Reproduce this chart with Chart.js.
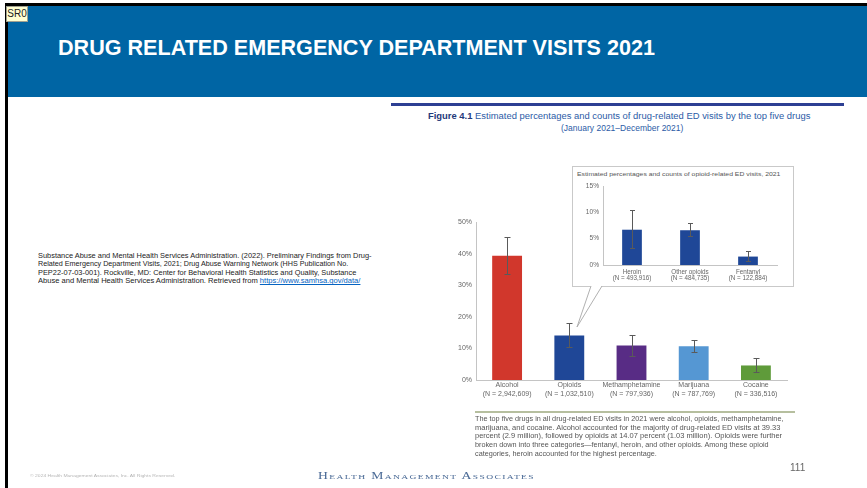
<!DOCTYPE html>
<html>
<head>
<meta charset="utf-8">
<script src="https://cdn.jsdelivr.net/npm/chart.js@4.4.1/dist/chart.umd.min.js"></script>
<style>
  html, body { margin: 0; padding: 0; }
  body { width: 867px; height: 488px; position: relative; overflow: hidden; background: #fff;
         font-family: "Liberation Sans", Arial, sans-serif; }
  .abs { position: absolute; white-space: nowrap; transform-origin: 0 50%; }
  #topBar { left: 5px; top: 3px; width: 862px; height: 3px; background: #000; }
  #leftBar { left: 5px; top: 3px; width: 3px; height: 485px; background: #000; }
  #banner { left: 8px; top: 6px; width: 859px; height: 91px; background: #0065a4; }
  #tag { left: 6px; top: 6px; width: 20px; height: 14px; background: #ffffd2; border: 1px solid #a0a090;
         font-size: 10px; line-height: 14px; color: #222; text-align: center; }
  #title { left: 58px; top: 38px; font-size: 21.5px; line-height: 21.5px; font-weight: bold; color: #fff; }
  #rule { left: 391px; top: 103px; width: 453px; height: 3px; background: #2d3f93; }
  .caption { font-size: 8.5px; line-height: 8.5px; color: #2b5ba6; }
  .caption b { color: #1f3a7a; }
  .cite { left: 38px; font-size: 6.8px; line-height: 6.8px; color: #222; }
  .cite a { color: #0563c1; text-decoration: underline; }
  #noteRule { left: 475px; top: 411px; width: 320px; height: 1.5px; background: #b6bf9f; }
  .note { left: 475px; font-size: 6.4px; line-height: 6.4px; color: #555; }
  #pageNo { left: 790px; top: 463px; font-size: 10px; line-height: 10px; color: #666; }
  #footer { left: 318px; top: 471px; font-family: "Liberation Serif", serif; font-variant: small-caps;
            font-size: 10px; line-height: 10px; letter-spacing: 1px; color: #4a6a96; }
  #copy { left: 30px; top: 474px; font-size: 4px; line-height: 4px; color: #b5b5b5; }
  #mainChart { position: absolute; left: 440px; top: 205px; }
  #insetBox { position: absolute; left: 572px; top: 166px; width: 220px; height: 119px;
              background: #fff; border: 1px solid #c9c9c9; }
  #insetTitle { left: 577px; top: 171px; font-size: 6.2px; line-height: 6.2px; color: #555; }
  #insetChart { position: absolute; left: 575px; top: 178px; }
  #pointer { position: absolute; left: 0; top: 0; }
</style>
</head>
<body>
<div id="topBar" class="abs"></div>
<div id="leftBar" class="abs"></div>
<div id="banner" class="abs"></div>
<div id="tag" class="abs">SR0</div>
<div id="title" class="abs">DRUG RELATED EMERGENCY DEPARTMENT VISITS 2021</div>
<div id="rule" class="abs"></div>

<div id="cap1" class="abs caption" style="left:428px; top:112px;"><b>Figure 4.1</b> Estimated percentages and counts of drug-related ED visits by the top five drugs</div>
<div id="cap2" class="abs caption" style="left:560px; top:124px;">(January 2021–December 2021)</div>

<div id="cite1" class="abs cite" style="top:252.5px;">Substance Abuse and Mental Health Services Administration. (2022). Preliminary Findings from Drug-</div>
<div id="cite2" class="abs cite" style="top:261px;">Related Emergency Department Visits, 2021; Drug Abuse Warning Network (HHS Publication No.</div>
<div id="cite3" class="abs cite" style="top:269.5px;">PEP22-07-03-001). Rockville, MD: Center for Behavioral Health Statistics and Quality, Substance</div>
<div id="cite4" class="abs cite" style="top:278px;">Abuse and Mental Health Services Administration. Retrieved from <a>https://www.samhsa.gov/data/</a></div>

<canvas id="mainChart" width="360" height="200"></canvas>
<div id="insetBox"></div>
<div id="insetTitle" class="abs">Estimated percentages and counts of opioid-related ED visits, 2021</div>
<canvas id="insetChart" width="215" height="108"></canvas>
<svg id="pointer" width="867" height="488">
  <polygon points="591,285.5 602,285.5 577,327" fill="#fff" stroke="none"/>
  <polyline points="591,286 577,327 602,286" fill="none" stroke="#b0b0b0" stroke-width="1"/>
</svg>

<div id="noteRule" class="abs"></div>
<div id="note1" class="abs note" style="top:416px;">The top five drugs in all drug-related ED visits in 2021 were alcohol, opioids, methamphetamine,</div>
<div id="note2" class="abs note" style="top:424.7px;">marijuana, and cocaine. Alcohol accounted for the majority of drug-related ED visits at 39.33</div>
<div id="note3" class="abs note" style="top:433.4px;">percent (2.9 million), followed by opioids at 14.07 percent (1.03 million). Opioids were further</div>
<div id="note4" class="abs note" style="top:442.1px;">broken down into three categories—fentanyl, heroin, and other opioids. Among these opioid</div>
<div id="note5" class="abs note" style="top:450.8px;">categories, heroin accounted for the highest percentage.</div>

<div id="pageNo" class="abs">111</div>
<div id="footer" class="abs">Health Management Associates</div>
<div id="copy" class="abs">© 2024 Health Management Associates, Inc. All Rights Reserved.</div>

<script>
// ---------- Data ----------
const DRUGS = ["Alcohol", "Opioids", "Methamphetamine", "Marijuana", "Cocaine"];
const DRUG_COUNTS = ["(N = 2,942,609)", "(N = 1,032,510)", "(N = 797,936)", "(N = 787,769)", "(N = 336,516)"];
const DRUG_PCT = [39.33, 14.07, 10.9, 10.7, 4.6];
const DRUG_LOW = [33.6, 10.4, 7.6, 8.9, 2.4];
const DRUG_HIGH = [45.3, 17.9, 14.1, 12.6, 6.9];
const DRUG_COLORS = ["#d1372c", "#1f4797", "#582c85", "#5597d3", "#5f9b3a"];
const DRUG_TICKS = [0, 10, 20, 30, 40, 50];

const OPIOIDS = ["Heroin", "Other opioids", "Fentanyl"];
const OPIOID_COUNTS = ["(N = 493,916)", "(N = 484,735)", "(N = 122,884)"];
const OPIOID_PCT = [6.7, 6.6, 1.6];
const OPIOID_LOW = [3.2, 5.5, 0.8];
const OPIOID_HIGH = [10.5, 7.9, 2.6];
const OPIOID_TICKS = [0, 5, 10, 15];

// ---------- Text fitting ----------
// stretch a line of text so it spans the same width as in the slide
function fit(id, width) {
  const el = document.getElementById(id);
  if (!el) return;
  el.style.transform = `scaleX(${width / el.offsetWidth})`;
}

fit("title", 597);
fit("cap1", 382);
fit("cite1", 334);
fit("cite2", 310);
fit("cite3", 318);
fit("cite4", 322);
fit("note1", 308);
fit("note2", 305);
fit("note3", 307);
fit("note4", 294);
fit("note5", 182);
fit("footer", 217);
fit("copy", 145);
fit("insetTitle", 203);

// center the second caption line under the first
(() => {
  const c2 = document.getElementById("cap2");
  c2.style.left = (622 - c2.offsetWidth / 2) + "px";
})();

// ---------- Charts ----------
Chart.defaults.font.family = "'Liberation Sans', Arial, sans-serif";
Chart.defaults.color = "#666";

const errorBars = {
  id: "errorBars",
  afterDatasetsDraw(chart, args, opts) {
    const { ctx } = chart;
    const y = chart.scales.y;
    const meta = chart.getDatasetMeta(0);
    ctx.save();
    ctx.strokeStyle = opts.color;
    ctx.lineWidth = 1;
    meta.data.forEach((bar, i) => {
      const x = Math.round(bar.x) + 0.5;
      const top = Math.round(y.getPixelForValue(opts.high[i])) + 0.5;
      const bottom = Math.round(y.getPixelForValue(opts.low[i])) + 0.5;
      ctx.beginPath();
      ctx.moveTo(x, top);
      ctx.lineTo(x, bottom);
      ctx.moveTo(x - opts.cap, top);
      ctx.lineTo(x + opts.cap, top);
      ctx.moveTo(x - opts.cap, bottom);
      ctx.lineTo(x + opts.cap, bottom);
      ctx.stroke();
    });
    ctx.restore();
  }
};

function barOptions(cfg) {
  return {
    responsive: false,
    animation: false,
    devicePixelRatio: 1,
    layout: { padding: cfg.padding },
    plugins: {
      legend: { display: false },
      tooltip: { enabled: false },
      errorBars: { low: cfg.low, high: cfg.high, cap: cfg.cap, color: "#5a5a5a" }
    },
    scales: {
      x: {
        grid: { display: false, drawTicks: false },
        border: { display: true, color: "#c4c4c4" },
        ticks: { font: { size: cfg.font, lineHeight: cfg.lineHeight }, padding: cfg.xPad, maxRotation: 0, autoSkip: false },
        afterFit: s => { s.height = cfg.xHeight; }
      },
      y: {
        min: 0,
        max: cfg.ticks[cfg.ticks.length - 1],
        grid: { display: false, drawTicks: false },
        border: { display: true, color: "#c4c4c4" },
        afterBuildTicks: s => { s.ticks = cfg.ticks.map(v => ({ value: v })); },
        ticks: { font: { size: cfg.yFont || cfg.font }, padding: 4, callback: v => v + "%" },
        afterFit: s => { s.width = cfg.yWidth; }
      }
    }
  };
}

new Chart(document.getElementById("mainChart"), {
  type: "bar",
  data: {
    labels: DRUGS.map((d, i) => [d, DRUG_COUNTS[i]]),
    datasets: [{
      data: DRUG_PCT,
      backgroundColor: DRUG_COLORS,
      categoryPercentage: 1,
      barPercentage: 0.48
    }]
  },
  options: barOptions({
    padding: { top: 17, right: 13, left: 0, bottom: 0 },
    low: DRUG_LOW, high: DRUG_HIGH, cap: 3,
    font: 7, lineHeight: 1.2, xPad: 1, xHeight: 25, yWidth: 36,
    ticks: DRUG_TICKS
  }),
  plugins: [errorBars]
});

new Chart(document.getElementById("insetChart"), {
  type: "bar",
  data: {
    labels: OPIOIDS.map((d, i) => [d, OPIOID_COUNTS[i]]),
    datasets: [{
      data: OPIOID_PCT,
      backgroundColor: "#1f4797",
      categoryPercentage: 1,
      barPercentage: 0.34
    }]
  },
  options: barOptions({
    padding: { top: 8, right: 13, left: 0, bottom: 0 },
    low: OPIOID_LOW, high: OPIOID_HIGH, cap: 2.5,
    font: 6.3, yFont: 6.6, lineHeight: 1.0, xPad: 4, xHeight: 21, yWidth: 28,
    ticks: OPIOID_TICKS
  }),
  plugins: [errorBars]
});
</script>
</body>
</html>
